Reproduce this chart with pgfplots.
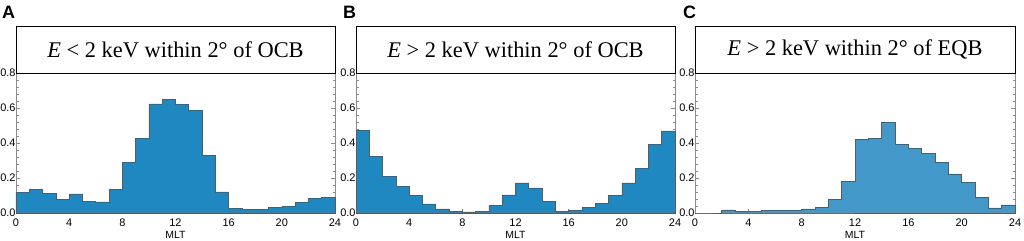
\documentclass[border=0pt]{standalone}
\usepackage{pgfplots}
\pgfplotsset{compat=1.18}
\usepackage{pgfplotstable}
\usepackage{fontspec}
\setmainfont{Liberation Sans}
\newfontfamily\seriffont{Liberation Serif}

\definecolor{barA}{RGB}{31,136,192}
\definecolor{barC}{RGB}{66,153,201}
\definecolor{axgray}{RGB}{140,140,140}
\definecolor{edge}{RGB}{90,90,90}

\pgfplotstableread{
x a b c
0 0.118 0.474 0.000
1 0.137 0.324 0.000
2 0.114 0.211 0.018
3 0.080 0.150 0.011
4 0.109 0.102 0.007
5 0.065 0.052 0.015
6 0.063 0.024 0.013
7 0.137 0.007 0.015
8 0.290 0.006 0.024
9 0.428 0.011 0.033
10 0.624 0.044 0.078
11 0.647 0.104 0.179
12 0.619 0.172 0.420
13 0.585 0.144 0.427
14 0.327 0.067 0.516
15 0.121 0.011 0.394
16 0.028 0.013 0.367
17 0.022 0.033 0.341
18 0.021 0.056 0.288
19 0.034 0.102 0.224
20 0.039 0.172 0.175
21 0.060 0.256 0.088
22 0.084 0.394 0.029
23 0.090 0.469 0.046
24 0.090 0.469 0.046
}\data

\pgfplotsset{panel/.style={
  scale only axis, width=319bp, height=140bp,
  xmin=0, xmax=24, ymin=0, ymax=0.8,
  xtick={0,4,8,12,16,20,24},
  ytick={0,0.2,0.4,0.6,0.8},
  minor y tick num=4,
  tick align=inside,
  ytick pos=both, xtick pos=bottom,
  axis line style={draw=axgray},
  every tick/.style={axgray},
  major tick length=4bp, minor tick length=2.5bp,
  /pgf/number format/assume math mode=true,
  tick label style={font=\fontsize{11}{13}\selectfont, text=black},
  yticklabel style={/pgf/number format/.cd, fixed, fixed zerofill, precision=1, /tikz/.cd, anchor=east, inner sep=0.3bp},
  xticklabel style={anchor=base, yshift=-13bp, inner sep=0pt},
  xlabel=MLT,
  xlabel style={at={(axis description cs:0.5,0)}, anchor=base, yshift=-25bp, inner sep=0pt, font=\fontsize{10.5}{12}\selectfont, text=black},
  clip=false,
}}

\begin{document}
\begin{tikzpicture}
\useasboundingbox (-16bp,-28bp) rectangle (1008bp,213bp);

\begin{axis}[panel, at={(0bp,0bp)}, anchor=south west, tick label style={font=\fontsize{11}{13}\selectfont}]
\addplot[const plot, fill=barA, draw=edge, line width=0.6bp] table[x=x,y=a]{\data} \closedcycle;
\draw[black, line width=0.8bp, fill=white] (axis description cs:0,1) rectangle (axis description cs:1,1.3357);
\node[font=\seriffont\fontsize{22.5}{26}\selectfont] at (axis description cs:0.5,1.168) {\textit{E} < 2 keV within 2° of OCB};
\end{axis}

\begin{axis}[panel, at={(340bp,0bp)}, anchor=south west, tick label style={font=\fontsize{11}{13}\selectfont}]
\addplot[const plot, fill=barA, draw=edge, line width=0.6bp] table[x=x,y=b]{\data} \closedcycle;
\draw[black, line width=0.8bp, fill=white] (axis description cs:0,1) rectangle (axis description cs:1,1.3357);
\node[font=\seriffont\fontsize{22.5}{26}\selectfont] at (axis description cs:0.5,1.168) {\textit{E} > 2 keV within 2° of OCB};
\end{axis}

\begin{axis}[panel, at={(679bp,0bp)}, anchor=south west, width=320bp, tick label style={font=\fontsize{11}{13}\selectfont}]
\addplot[const plot, fill=barC, draw=edge, line width=0.6bp] table[x=x,y=c]{\data} \closedcycle;
\draw[black, line width=0.8bp, fill=white] (axis description cs:0,1) rectangle (axis description cs:1,1.3357);
\node[font=\seriffont\fontsize{22.5}{26}\selectfont] at (axis description cs:0.5,1.168) {\textit{E} > 2 keV within 2° of EQB};
\end{axis}

\node[anchor=base west, inner sep=0pt, font=\bfseries\fontsize{18}{20}\selectfont] at (-14bp,194bp) {A};
\node[anchor=base west, inner sep=0pt, font=\bfseries\fontsize{18}{20}\selectfont] at (327bp,194bp) {B};
\node[anchor=base west, inner sep=0pt, font=\bfseries\fontsize{18}{20}\selectfont] at (667bp,194bp) {C};
\end{tikzpicture}
\end{document}
